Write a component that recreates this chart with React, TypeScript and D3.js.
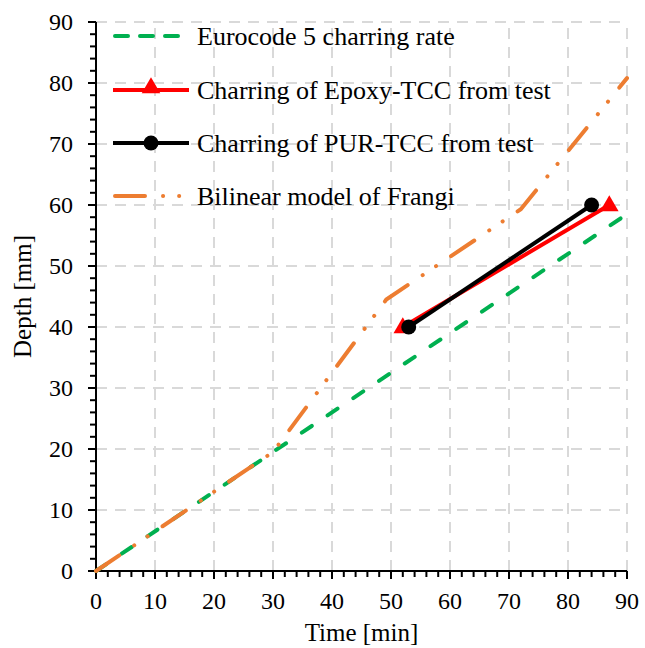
import React from "react";
import * as d3 from "d3";

const W = 645;
const H = 648;

const euroTime = [0, 90];
const euroDepth = [0, 58.5];

const epoxyTime = [52, 87];
const epoxyDepth = [40, 60];

const purTime = [53, 84];
const purDepth = [40, 60];

const frangiTime = [0, 30, 49.2, 72, 90];
const frangiDepth = [0, 19.5, 44.5, 59.3, 80.8];

const majorTicks = [0, 10, 20, 30, 40, 50, 60, 70, 80, 90];
const minorTicks = d3.range(0, 91, 2);

const legendLabels = [
  "Eurocode 5 charring rate",
  "Charring of Epoxy-TCC from test",
  "Charring of PUR-TCC from test",
  "Bilinear model of Frangi",
];

const GREEN = "#00b050";
const RED = "#ff0000";
const BLACK = "#000000";
const ORANGE = "#ed7d31";
const GRID = "#d9d9d9";
const FONT = "'Liberation Serif', 'Times New Roman', serif";

export default function App() {
  const x = d3.scaleLinear().domain([0, 90]).range([96, 627]);
  const y = d3.scaleLinear().domain([0, 90]).range([571, 22]);

  const line = d3
    .line<[number, number]>()
    .x((d) => x(d[0]))
    .y((d) => y(d[1]));

  const zip = (a: number[], b: number[]) =>
    a.map((v, i) => [v, b[i]] as [number, number]);

  const euro = zip(euroTime, euroDepth);
  const epoxy = zip(epoxyTime, epoxyDepth);
  const pur = zip(purTime, purDepth);
  const frangi = zip(frangiTime, frangiDepth);

  const tri = d3.symbol().type(d3.symbolTriangle).size(150)();

  const legendY = [36, 90, 143, 196];
  const lx0 = 113;
  const lx1 = 189;
  const lxm = 151;

  return (
    <div style={{ position: "absolute", left: 0, top: 0 }}>
      <svg width={W} height={H} style={{ display: "block" }}>
        <rect width={W} height={H} fill="#fff" />
        {/* grid */}
        {majorTicks.map((t) => (
          <line
            key={"gx" + t}
            x1={x(t)}
            x2={x(t)}
            y1={y(0)}
            y2={y(90)}
            stroke={GRID}
            strokeWidth={2}
            strokeDasharray="11 8"
          />
        ))}
        {majorTicks.map((t) => (
          <line
            key={"gy" + t}
            x1={x(0)}
            x2={x(90)}
            y1={y(t)}
            y2={y(t)}
            stroke={GRID}
            strokeWidth={2}
            strokeDasharray="11 8"
          />
        ))}

        {/* axes */}
        <line x1={x(0)} x2={x(90)} y1={y(0)} y2={y(0)} stroke="#000" strokeWidth={2} />
        <line x1={x(0)} x2={x(0)} y1={y(0)} y2={y(90)} stroke="#000" strokeWidth={2} />
        {minorTicks.map((t) => {
          const major = t % 10 === 0;
          return (
            <g key={"t" + t}>
              <line
                x1={x(t)}
                x2={x(t)}
                y1={y(0)}
                y2={y(0) + (major ? 8 : 6)}
                stroke="#000"
                strokeWidth={2}
              />
              <line
                x1={x(0)}
                x2={x(0) - (major ? 8 : 6)}
                y1={y(t)}
                y2={y(t)}
                stroke="#000"
                strokeWidth={2}
              />
            </g>
          );
        })}
        {majorTicks.map((t) => (
          <text
            key={"xl" + t}
            x={x(t)}
            y={609}
            textAnchor="middle"
            fontFamily={FONT}
            fontSize={24}
            fill="#000"
          >
            {t}
          </text>
        ))}
        {majorTicks.map((t) => (
          <text
            key={"yl" + t}
            x={73}
            y={y(t)}
            dy="0.35em"
            textAnchor="end"
            fontFamily={FONT}
            fontSize={24}
            fill="#000"
          >
            {t}
          </text>
        ))}
        <text
          x={(x(0) + x(90)) / 2}
          y={641}
          textAnchor="middle"
          fontFamily={FONT}
          fontSize={25}
          fill="#000"
        >
          Time [min]
        </text>
        <text
          transform={`translate(22, ${(y(0) + y(90)) / 2}) rotate(-90)`}
          dy="0.35em"
          textAnchor="middle"
          fontFamily={FONT}
          fontSize={25}
          fill="#000"
        >
          Depth [mm]
        </text>

        {/* series */}
        <path
          d={line(euro) || ""}
          fill="none"
          stroke={GREEN}
          strokeWidth={4}
          strokeDasharray="12 19"
          strokeLinecap="round"
        />
        <path d={line(epoxy) || ""} fill="none" stroke={RED} strokeWidth={4} />
        {epoxy.map((p, i) => (
          <path
            key={"e" + i}
            d={tri || ""}
            transform={`translate(${x(p[0])},${y(p[1]) + 1})`}
            fill={RED}
          />
        ))}
        <path d={line(pur) || ""} fill="none" stroke={BLACK} strokeWidth={4} />
        {pur.map((p, i) => (
          <circle key={"p" + i} cx={x(p[0])} cy={y(p[1])} r={7.5} fill={BLACK} />
        ))}
        <path
          d={line(frangi) || ""}
          fill="none"
          stroke={ORANGE}
          strokeWidth={4}
          strokeDasharray="28 18 0.1 16 0.1 18"
          strokeLinecap="round"
        />

        {/* legend */}
        <line
          x1={lx0 + 2}
          x2={lx1}
          y1={legendY[0]}
          y2={legendY[0]}
          stroke={GREEN}
          strokeWidth={4}
          strokeDasharray="13 12"
          strokeLinecap="round"
        />
        <line x1={lx0} x2={lx1} y1={legendY[1]} y2={legendY[1]} stroke={RED} strokeWidth={4} />
        <path d={tri || ""} transform={`translate(${lxm},${legendY[1] - 2})`} fill={RED} />
        <line x1={lx0} x2={lx1} y1={legendY[2]} y2={legendY[2]} stroke={BLACK} strokeWidth={4} />
        <circle cx={lxm} cy={legendY[2]} r={7.5} fill={BLACK} />
        <line
          x1={lx0 + 2}
          x2={lx1}
          y1={legendY[3]}
          y2={legendY[3]}
          stroke={ORANGE}
          strokeWidth={4}
          strokeDasharray="30 18 0.1 16 0.1 18"
          strokeLinecap="round"
        />
        {legendLabels.map((s, i) => (
          <text
            key={"lg" + i}
            x={197}
            y={legendY[i]}
            dy="0.35em"
            fontFamily={FONT}
            fontSize={26}
            fill="#000"
          >
            {s}
          </text>
        ))}
      </svg>
    </div>
  );
}
